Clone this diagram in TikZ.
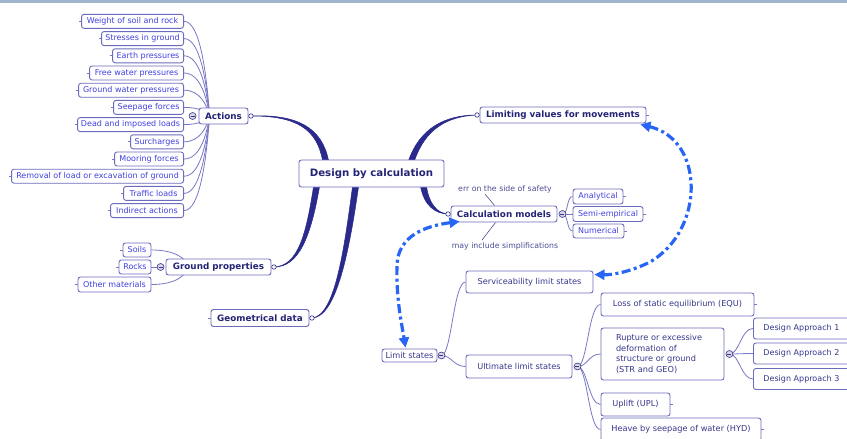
\documentclass[tikz,border=0pt]{standalone}
\usepackage{fontspec}
\setmainfont{DejaVu Sans}
\usetikzlibrary{arrows.meta,calc}
\pgfdeclarelayer{paper}
\pgfdeclarelayer{bg}
\pgfsetlayers{paper,bg,main}

\definecolor{topbar}{RGB}{160,182,205}
\definecolor{branch}{RGB}{42,42,140}
\definecolor{frame}{RGB}{108,108,188}
\definecolor{twig}{RGB}{120,120,198}
\definecolor{leaftext}{RGB}{64,64,225}
\definecolor{topictext}{RGB}{36,36,118}
\definecolor{subtext}{RGB}{55,55,140}
\definecolor{notetext}{RGB}{78,78,150}
\definecolor{linkblue}{RGB}{40,100,245}
\definecolor{knobfill}{RGB}{215,215,225}

\tikzset{
  mmbox/.style={draw=frame, fill=white, line width=0.9pt, rounded corners=2.5pt, inner sep=0pt},
  leaf/.style={mmbox, text=leaftext, font=\fontsize{8}{9.6}\selectfont, minimum height=14pt},
  topic/.style={mmbox, text=topictext, font=\fontsize{8.8}{10}\selectfont\bfseries, minimum height=16pt},
  subtopic/.style={mmbox, text=subtext, font=\fontsize{8.2}{10.5}\selectfont, minimum height=22pt},
  twigline/.style={draw=twig, line width=0.8pt},
  note/.style={text=notetext, font=\fontsize{7.8}{9}\selectfont, inner sep=0pt},
  linkarrow/.style={draw=linkblue, line width=3.2pt,
    dash pattern=on 9pt off 3.5pt on 3pt off 3.5pt,
    {Triangle[length=10pt,width=10pt]}-{Triangle[length=10pt,width=10pt]}},
  enddot/.style={circle, draw=branch, fill=white, line width=0.6pt, minimum size=4.5pt, inner sep=0pt},
  knob/.style={circle, draw=subtext, fill=knobfill, line width=0.6pt, minimum size=7pt, inner sep=0pt,
    path picture={\draw[subtext, line width=0.7pt]
      ([xshift=-2pt]path picture bounding box.center) -- ([xshift=2pt]path picture bounding box.center);}},
  trunk/.style={fill=branch, draw=branch, line width=0.5pt},
}

\begin{document}
\begin{tikzpicture}[x=1pt,y=-1pt]
\useasboundingbox (0,0) rectangle (847,439);
\begin{pgfonlayer}{paper}
  \fill[white] (0,0) rectangle (847,439);
  \fill[topbar] (0,0) rectangle (847,2.5);
\end{pgfonlayer}
\clip (0,0) rectangle (847,439);

% ---------- central topic ----------
\node[mmbox, text=topictext, font=\fontsize{10.2}{12}\selectfont\bfseries,
      minimum width=145pt, minimum height=27pt] (dbc) at (371.5,173.5) {Design by calculation};

% ---------- main topics ----------
\node[topic, minimum width=49pt] (act) at (223.5,116) {Actions};
\node[topic, minimum width=105pt] (gp) at (218.5,267) {Ground properties};
\node[topic, minimum width=98pt, minimum height=17pt] (geo) at (260,318) {Geometrical data};
\node[topic, minimum width=166pt] (lim) at (563,115) {Limiting values for movements};
\node[topic, minimum width=106pt] (calc) at (504,214) {Calculation models};

% ---------- actions ----------
\foreach \nm/\xl/\yy/\tx in {
  w/82/21.3/Weight of soil and rock,
  s/102/38.6/Stresses in ground,
  e/113/55.8/Earth pressures,
  f/90/73.0/Free water pressures,
  g/79/90.2/Ground water pressures,
  sp/114/107.4/Seepage forces,
  d/78/124.6/Dead and imposed loads,
  su/131/141.8/Surcharges,
  m/115/159.0/Mooring forces,
  r/12/176.2/Removal of load or excavation of ground,
  t/124/193.4/Traffic loads,
  i/111/210.6/Indirect actions}{
  \node[leaf, anchor=east, minimum width={184-\xl}] (\nm) at (184,\yy) {\tx};
  \draw[twigline] (\nm.west) -- +(-2.5,0);
}
\coordinate (aend) at ($(act.west)+(11,0)$);

% ---------- ground properties ----------
\node[leaf, minimum width=28pt] (soils) at (137,250) {Soils};
\node[leaf, minimum width=32pt] (rocks) at (135,267) {Rocks};
\node[leaf, minimum width=73pt, minimum height=15pt] (other) at (114.5,284.5) {Other materials};
\foreach \nm in {soils,rocks,other} \draw[twigline] (\nm.west) -- +(-2.5,0);
\draw[twigline] (geo.west) -- +(-2.5,0);
\coordinate (gend) at ($(gp.west)+(24,0)$);

% ---------- calculation models ----------
\node[leaf, minimum width=50pt, minimum height=15pt] (ana) at (598,196.5) {Analytical};
\node[leaf, minimum width=70pt, minimum height=15pt] (semi) at (608,214) {Semi-empirical};
\node[leaf, minimum width=51pt] (num) at (598.5,231) {Numerical};
\foreach \nm in {ana,semi,num,lim} \draw[twigline] (\nm.east) -- +(2.5,0);

\node[note] (errn) at (505,189) {err on the side of safety};
\node[note] (simp) at (505,246) {may include simplifications};

% ---------- limit states ----------
\node[subtopic, minimum width=55pt, minimum height=13pt] (ls) at (409.5,355.5) {Limit states};
\node[subtopic, minimum width=127pt] (serv) at (529.5,282) {Serviceability limit states};
\node[subtopic, minimum width=106pt, minimum height=23pt] (uls) at (519,366.5) {Ultimate limit states};
\node[subtopic, minimum width=153pt, minimum height=23pt] (loss) at (677.5,304.5) {Loss of static equilibrium (EQU)};
\node[subtopic, minimum height=52pt, text width=93pt, align=left, inner xsep=15pt] (rup) at (662.5,354)
  {Rupture or excessive\\deformation of\\structure or ground\\(STR and GEO)};
\node[subtopic, minimum width=69pt, minimum height=23pt] (upl) at (635.5,404.5) {Uplift (UPL)};
\node[subtopic, minimum width=160pt, minimum height=23pt] (hyd) at (681,429.5) {Heave by seepage of water (HYD)};
\foreach \nm/\yy/\tx in {da1/328.5/Design Approach 1,da2/353.5/Design Approach 2,da3/379/Design Approach 3}{
  \node[subtopic, anchor=west, minimum height=21pt, text width=100pt, align=left, inner xsep=10pt,
        font=\fontsize{8}{10}\selectfont] (\nm) at (753,\yy) {\tx};
}
\foreach \nm in {loss,upl,hyd} \draw[twigline] (\nm.east) -- +(2.5,0);

% ---------- dots and knobs ----------
\node[enddot] (adot) at ($(act.east)+(2.5,0)$) {};
\node[enddot] (gdot) at ($(gp.east)+(2.5,0)$) {};
\node[enddot] (geodot) at ($(geo.east)+(2.5,0)$) {};
\node[enddot] (ldot) at ($(lim.west)+(-2.5,0)$) {};
\node[enddot] (cdot) at ($(calc.west)+(-2.5,0)$) {};
\node[knob] (aknob) at ($(act.west)+(-6,0)$) {};
\node[knob] (gknob) at ($(gp.west)+(-5,0)$) {};
\node[knob] (cknob) at ($(calc.east)+(5,0)$) {};
\node[knob] (lsknob) at ($(ls.east)+(4,0)$) {};
\node[knob] (uknob) at ($(uls.east)+(5,0)$) {};
\node[knob] (rknob) at ($(rup.east)+(5,0)$) {};

% ---------- connectors behind the boxes ----------
\begin{pgfonlayer}{bg}
  % tapered main branches, thin at the topic, wide at the centre
  \filldraw[trunk]
    (adot.center) .. controls (298,114) and (322,128) .. ($(dbc.north west)+(30,1)$)
    -- ($(dbc.north west)+(24,1)$) .. controls (317,129.5) and (297,115.8) .. (adot.center);
  \filldraw[trunk]
    (gdot.center) .. controls (298,266) and (306,235) .. ($(dbc.south west)+(15,-1)$)
    -- ($(dbc.south west)+(21,-1)$) .. controls (311,236) and (299,267.4) .. (gdot.center);
  \filldraw[trunk]
    (geodot.center) .. controls (335,316) and (344,250) .. ($(dbc.south west)+(54,-1)$)
    -- ($(dbc.south west)+(60,-1)$) .. controls (349.5,250) and (336.5,317.6) .. (geodot.center);
  \filldraw[trunk]
    (ldot.center) .. controls (445,115) and (420,128) .. ($(dbc.north west)+(110,1)$)
    -- ($(dbc.north west)+(116,1)$) .. controls (425,130) and (446,116.3) .. (ldot.center);
  \filldraw[trunk]
    (cdot.center) .. controls (436,214) and (424,206) .. ($(dbc.south west)+(122,-1)$)
    -- ($(dbc.south west)+(128,-1)$) .. controls (429,204) and (437.5,213.4) .. (cdot.center);

  % actions
  \foreach \nm/\yy in {w/21.3,s/38.6,e/55.8,f/73.0,g/90.2,sp/107.4,d/124.6,su/141.8,m/159.0,r/176.2,t/193.4,i/210.6}
    \draw[twigline] (\nm.east) .. controls +(16,0) and +(-3,{0.45*(\yy-116)}) .. (aend);

  % ground properties
  \draw[twigline] (soils.east) .. controls +(25,0) and +(-4,-8) .. (gend);
  \draw[twigline] (other.east) .. controls +(25,0) and +(-4,8) .. (gend);
  \draw[twigline] (rocks.east) -- (gknob);

  % calculation models
  \foreach \nm in {ana,semi,num}
    \draw[twigline] (cknob.center) .. controls +(6,0) and +(-6,0) .. (\nm.west);
  \draw[draw=notetext, line width=0.6pt] ($(errn.south)+(-20,1)$) -- ($(calc.north west)+(44,0)$);
  \draw[draw=notetext, line width=0.6pt] ($(calc.south west)+(45,0)$) -- ($(simp.north)+(-23,-2)$);

  % limit states
  \foreach \nm in {serv,uls}
    \draw[twigline] (lsknob.center) .. controls +(10,0) and +(-12,0) .. (\nm.west);
  \foreach \nm in {loss,rup,upl,hyd}
    \draw[twigline] (uknob.center) .. controls +(10,0) and +(-12,0) .. (\nm.west);
  \foreach \nm in {da1,da2,da3}
    \draw[twigline] (rknob.center) .. controls +(10,0) and +(-12,0) .. (\nm.west);
\end{pgfonlayer}

% ---------- cross links ----------
\coordinate (limtip) at ($(lim.south east)+(-6,1)$);
\coordinate (servtip) at ($(serv.north east)+(1,4)$);
\coordinate (calctip) at ($(calc.south west)+(9,-1)$);
\coordinate (lstip) at ($(ls.north)+(-4,-1)$);
\draw[linkarrow] (limtip) .. controls (705,140) and (705,230) .. (650,262)
  .. controls (630,272) and (612,275) .. (servtip);
\draw[linkarrow] (calctip) .. controls (425,226) and (398,236) .. (397,265)
  .. controls (396,300) and (402,325) .. (lstip);
\end{tikzpicture}
\end{document}
